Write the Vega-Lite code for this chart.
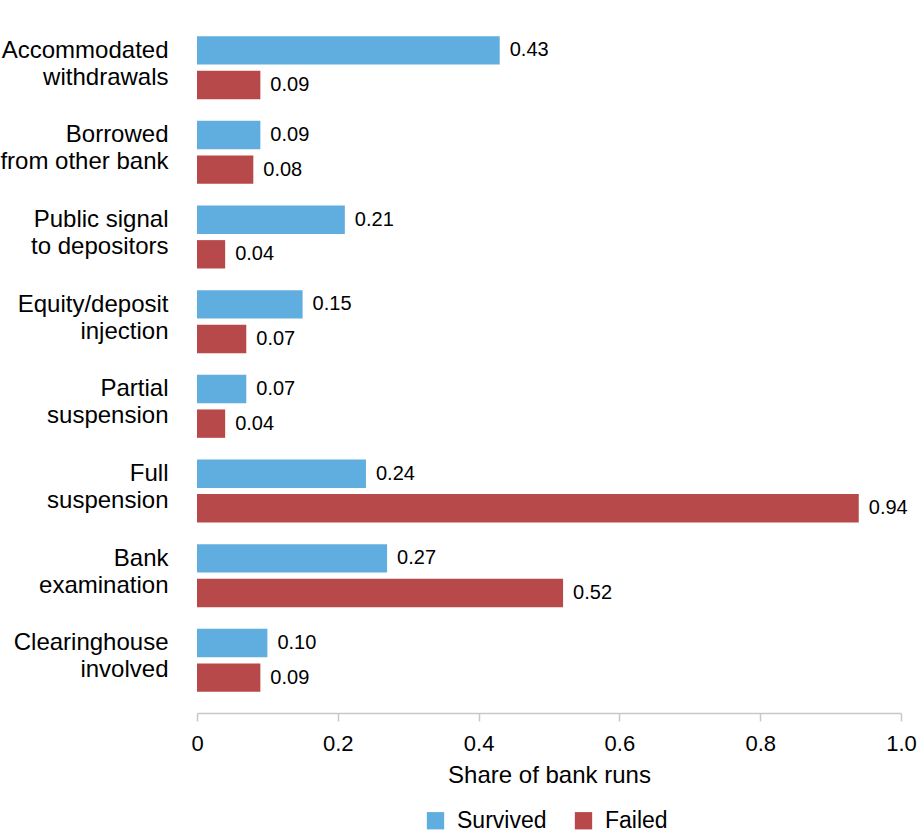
{
  "$schema": "https://vega.github.io/schema/vega-lite/v6.json",
  "autosize": {"type": "none"},
  "padding": {"left": 197, "top": 15, "right": 19, "bottom": 125},
  "width": 704,
  "height": 698,
  "background": "white",
  "config": {
    "view": {"stroke": null},
    "font": "Liberation Sans",
    "axis": {"labelColor": "black", "titleColor": "black", "grid": false, "labelFont": "Liberation Sans", "titleFont": "Liberation Sans"},
    "legend": {"labelFont": "Liberation Sans"}
  },
  "data": {
    "values": [
      {"category": "Accommodated|withdrawals", "group": "Survived", "value": 0.43},
      {"category": "Accommodated|withdrawals", "group": "Failed", "value": 0.09},
      {"category": "Borrowed|from other bank", "group": "Survived", "value": 0.09},
      {"category": "Borrowed|from other bank", "group": "Failed", "value": 0.08},
      {"category": "Public signal|to depositors", "group": "Survived", "value": 0.21},
      {"category": "Public signal|to depositors", "group": "Failed", "value": 0.04},
      {"category": "Equity/deposit|injection", "group": "Survived", "value": 0.15},
      {"category": "Equity/deposit|injection", "group": "Failed", "value": 0.07},
      {"category": "Partial|suspension", "group": "Survived", "value": 0.07},
      {"category": "Partial|suspension", "group": "Failed", "value": 0.04},
      {"category": "Full|suspension", "group": "Survived", "value": 0.24},
      {"category": "Full|suspension", "group": "Failed", "value": 0.94},
      {"category": "Bank|examination", "group": "Survived", "value": 0.27},
      {"category": "Bank|examination", "group": "Failed", "value": 0.52},
      {"category": "Clearinghouse|involved", "group": "Survived", "value": 0.10},
      {"category": "Clearinghouse|involved", "group": "Failed", "value": 0.09}
    ]
  },
  "encoding": {
    "y": {
      "field": "category",
      "type": "nominal",
      "sort": null,
      "scale": {"paddingInner": 0.256, "paddingOuter": 0.25},
      "axis": {
        "title": null,
        "domain": false,
        "ticks": false,
        "labelPadding": 29,
        "labelFontSize": 24,
        "labelLineHeight": 27,
        "labelOffset": -17,
        "labelExpr": "split(datum.value, '|')",
        "labelLimit": 300
      }
    },
    "yOffset": {
      "field": "group",
      "type": "nominal",
      "sort": ["Survived", "Failed"],
      "scale": {"paddingInner": 0.18, "paddingOuter": 0}
    },
    "x": {
      "field": "value",
      "type": "quantitative",
      "scale": {"domain": [0, 1], "nice": false},
      "axis": {
        "title": "Share of bank runs",
        "values": [0, 0.2, 0.4, 0.6, 0.8, 1.0],
        "labelExpr": "datum.value == 0 ? '0' : format(datum.value, '.1f')",
        "labelFontSize": 22,
        "titleFontSize": 24,
        "titleFontWeight": "normal",
        "titlePadding": 9,
        "labelPadding": 12,
        "tickSize": 8,
        "tickColor": "#c8c8c8",
        "domainColor": "#c8c8c8",
        "domainWidth": 1.5,
        "tickWidth": 1.5,
        "labelFlush": false
      }
    }
  },
  "layer": [
    {
      "mark": {"type": "bar"},
      "encoding": {
        "color": {
          "field": "group",
          "type": "nominal",
          "sort": ["Survived", "Failed"],
          "scale": {"domain": ["Survived", "Failed"], "range": ["#60aee0", "#b8494a"]},
          "legend": {
            "title": null,
            "orient": "none",
            "direction": "horizontal",
            "legendX": 227,
            "legendY": 794,
            "symbolType": "square",
            "symbolSize": 300,
            "symbolStrokeWidth": 0,
            "symbolOpacity": 1,
            "labelFontSize": 23,
            "labelOffset": 10,
            "columnPadding": 25,
            "labelColor": "black"
          }
        }
      }
    },
    {
      "mark": {"type": "text", "align": "left", "baseline": "middle", "dx": 10, "fontSize": 20, "color": "black"},
      "encoding": {
        "text": {"field": "value", "type": "quantitative", "format": ".2f"}
      }
    }
  ]
}
